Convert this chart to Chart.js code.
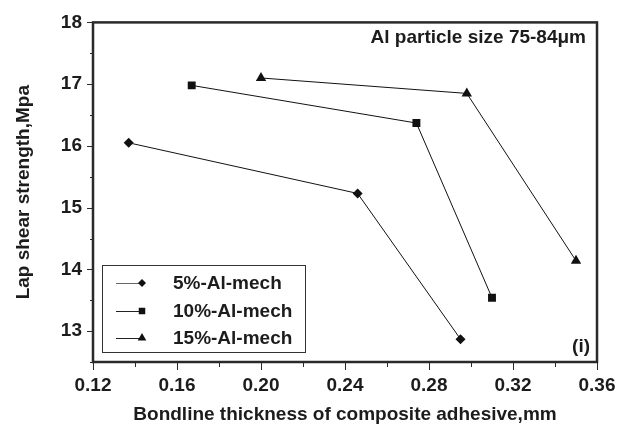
<!DOCTYPE html>
<html>
<head>
<meta charset="utf-8">
<script src="https://cdn.jsdelivr.net/npm/chart.js@4/dist/chart.umd.min.js"></script>
<style>
  html, body { margin: 0; padding: 0; background: #fff; }
  #wrap { width: 628px; height: 433px; }
</style>
</head>
<body>
<div id="wrap"><canvas id="c" width="628" height="433"></canvas></div>
<script>
// Bondline thickness (mm) and lap shear strength (MPa) per Al loading
const seriesNames = ['5%-Al-mech', '10%-Al-mech', '15%-Al-mech'];
const thick5 = [0.137, 0.246, 0.295];
const shear5 = [16.05, 15.23, 12.87];
const thick10 = [0.167, 0.274, 0.310];
const shear10 = [16.98, 16.37, 13.54];
const thick15 = [0.200, 0.298, 0.350];
const shear15 = [17.10, 16.85, 14.14];
const xTickLabels = ['0.12', '0.16', '0.20', '0.24', '0.28', '0.32', '0.36'];
const yTickLabels = ['13', '14', '15', '16', '17', '18'];
const noteText = 'Al particle size 75-84\u03bcm';
const panelText = '(i)';

const FONT = '"Liberation Sans", Arial, sans-serif';
const FSIZE = 19;
const INK = '#1c1c1c';
const pointShapes = ['rectRot', 'rect', 'triangle'];
const pointSizes = [5, 5.6, 6];

function toPoints(xs, ys) { return xs.map((x, i) => ({ x: x, y: ys[i] })); }

const datasets = [[thick5, shear5], [thick10, shear10], [thick15, shear15]].map((p, i) => ({
  label: seriesNames[i],
  data: toPoints(p[0], p[1]),
  showLine: true,
  borderColor: '#111',
  borderWidth: 1,
  backgroundColor: '#111',
  pointStyle: pointShapes[i],
  pointRadius: pointSizes[i],
  pointBorderWidth: 0,
  pointBackgroundColor: '#111'
}));

// Frame, major/minor tick marks, inset legend and text notes
const decor = {
  id: 'decor',
  afterDraw(chart) {
    const ctx = chart.ctx;
    const a = chart.chartArea;
    const xs = chart.scales.x, ys = chart.scales.y;
    ctx.save();
    ctx.strokeStyle = '#2a2a2a';
    ctx.lineWidth = 1;
    // ticks
    ctx.beginPath();
    xs.ticks.forEach(t => {
      const px = Math.round(xs.getPixelForValue(t.value)) + 0.5;
      const major = xTickLabels.includes(t.value.toFixed(2));
      ctx.moveTo(px, a.bottom);
      ctx.lineTo(px, a.bottom + (major ? 8 : 5));
    });
    ys.ticks.forEach(t => {
      const py = Math.round(ys.getPixelForValue(t.value)) + 0.5;
      const major = yTickLabels.includes(String(t.value));
      ctx.moveTo(a.left, py);
      ctx.lineTo(a.left - (major ? 6 : 3), py);
    });
    ctx.stroke();
    // frame
    ctx.lineWidth = 2.5;
    ctx.strokeStyle = '#2a2a2a';
    ctx.strokeRect(a.left, a.top, a.right - a.left, a.bottom - a.top);

    // notes
    ctx.fillStyle = INK;
    ctx.font = 'bold ' + FSIZE + 'px ' + FONT;
    ctx.textBaseline = 'middle';
    ctx.textAlign = 'right';
    ctx.fillText(noteText, 586, 38);
    ctx.fillText(panelText, 590, 347);

    // legend
    const lx = 102.5, ly = 265.5, lw = 203, lh = 87;
    ctx.lineWidth = 1;
    ctx.strokeStyle = '#333';
    ctx.strokeRect(lx, ly, lw, lh);
    const rows = [283, 311, 338];
    const legendSizes = [4, 4.6, 5];
    chart.data.datasets.forEach((ds, i) => {
      const y = rows[i];
      ctx.strokeStyle = i === 0 ? '#666' : '#222';
      ctx.lineWidth = 1;
      ctx.beginPath();
      ctx.moveTo(116, y + 0.5);
      ctx.lineTo(140, y + 0.5);
      ctx.stroke();
      ctx.fillStyle = '#111';
      Chart.helpers.drawPoint(ctx, { pointStyle: ds.pointStyle, radius: legendSizes[i], borderWidth: 0 }, 142, y);
      ctx.fillStyle = INK;
      ctx.textAlign = 'left';
      ctx.fillText(ds.label, 173, y + 1);
    });
    ctx.restore();
  }
};

new Chart(document.getElementById('c'), {
  type: 'scatter',
  data: { datasets: datasets },
  plugins: [decor],
  options: {
    responsive: false,
    animation: false,
    devicePixelRatio: 1,
    layout: { padding: { left: 0, top: 18, right: 31, bottom: 0 } },
    plugins: { legend: { display: false }, tooltip: { enabled: false } },
    scales: {
      x: {
        type: 'linear',
        min: 0.12, max: 0.36,
        afterFit(s) { s.height = 71; },
        grid: { display: false, drawTicks: false },
        border: { display: false },
        ticks: {
          stepSize: 0.02,
          autoSkip: false,
          maxRotation: 0,
          padding: 12,
          color: INK,
          font: { family: FONT, size: FSIZE, weight: 'bold' },
          callback(v) {
            const s = Number(v).toFixed(2);
            return xTickLabels.includes(s) ? s : '';
          }
        },
        title: {
          display: true,
          text: 'Bondline thickness of composite adhesive,mm',
          color: INK,
          font: { family: FONT, size: FSIZE, weight: 'bold' },
          padding: { top: 0, bottom: 7 }
        }
      },
      y: {
        type: 'linear',
        min: 12.5, max: 18,
        afterFit(s) { s.width = 93; },
        grid: { display: false, drawTicks: false },
        border: { display: false },
        ticks: {
          stepSize: 0.5,
          autoSkip: false,
          padding: 11,
          color: INK,
          font: { family: FONT, size: FSIZE, weight: 'bold' },
          callback(v) {
            const s = String(v);
            return yTickLabels.includes(s) ? s : '';
          }
        },
        title: {
          display: true,
          text: 'Lap shear strength,Mpa',
          color: INK,
          font: { family: FONT, size: FSIZE, weight: 'bold' },
          padding: { top: 12, bottom: 0 }
        }
      }
    }
  }
});
</script>
</body>
</html>
